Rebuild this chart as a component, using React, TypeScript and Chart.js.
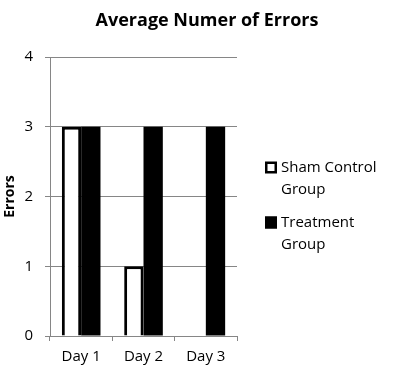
import React, { useEffect, useRef } from "react";
import { Chart, registerables } from "chart.js";

Chart.register(...registerables);

const chartTitle = "Average Numer of Errors";
const categories = ["Day 1", "Day 2", "Day 3"];
const shamValues = [3, 1, 0];
const treatmentValues = [3, 3, 3];
const seriesLabels = [["Sham Control", "Group"], ["Treatment", "Group"]];
const yTicks = [0, 1, 2, 3, 4];

const FONT = "'Open Sans', sans-serif";

const overlay = {
  id: "overlay",
  afterDraw(chart: any) {
    const ctx = chart.ctx;
    const area = chart.chartArea;
    ctx.save();
    // title
    ctx.font = `bold 18px ${FONT}`;
    ctx.fillStyle = "#000";
    ctx.textAlign = "center";
    ctx.textBaseline = "middle";
    ctx.fillText(chartTitle, 207, 21);
    // legend
    const x0 = area.right + 28;
    const lineH = 22;
    const startY = 167.5;
    const itemGap = 55;
    ctx.font = `15px ${FONT}`;
    ctx.textAlign = "left";
    chart.data.datasets.forEach((ds: any, i: number) => {
      const y = startY + i * itemGap;
      const box = 12;
      ctx.fillStyle = ds.backgroundColor;
      ctx.fillRect(x0, y - box / 2, box, box);
      ctx.strokeStyle = "#000";
      ctx.lineWidth = 2.5;
      ctx.strokeRect(x0 + 1.25, y - box / 2 + 1.25, box - 2.5, box - 2.5);
      ctx.fillStyle = "#000";
      seriesLabels[i].forEach((line, j) => {
        ctx.fillText(line, x0 + 16, y + j * lineH);
      });
    });
    ctx.restore();
  },
};

export default function App() {
  const ref = useRef<HTMLCanvasElement | null>(null);
  useEffect(() => {
    document.body.style.margin = "0";
    if (!ref.current) return;
    const chart = new Chart(ref.current, {
      type: "bar",
      data: {
        labels: categories,
        datasets: [
          {
            label: seriesLabels[0].join(" "),
            data: shamValues,
            backgroundColor: "#ffffff",
            borderColor: "#000000",
            borderWidth: 3,
            borderSkipped: "start",
          },
          {
            label: seriesLabels[1].join(" "),
            data: treatmentValues,
            backgroundColor: "#000000",
            borderColor: "#000000",
            borderWidth: 0,
          },
        ],
      },
      plugins: [overlay],
      options: {
        responsive: false,
        animation: false,
        datasets: { bar: { categoryPercentage: 0.62, barPercentage: 1 } },
        layout: { padding: { left: 0, right: 163, top: 57, bottom: 10 } },
        plugins: {
          tooltip: { enabled: false },
          legend: { display: false },
          title: { display: false },
        },
        scales: {
          x: {
            offset: true,
            grid: {
              offset: true,
              drawOnChartArea: false,
              drawTicks: true,
              tickLength: 5,
              color: "#868686",
            },
            border: { color: "#868686", width: 1, z: 1 },
            ticks: { color: "#000", font: { family: FONT, size: 15 }, padding: 7 },
          },
          y: {
            min: 0,
            max: 4,
            afterBuildTicks: (axis: any) => {
              axis.ticks = yTicks.map((v) => ({ value: v }));
            },
            afterFit: (axis: any) => {
              axis.width = 50;
            },
            grid: { color: "#868686", tickLength: 5 },
            border: { color: "#868686", width: 1 },
            ticks: { color: "#000", font: { family: FONT, size: 15 }, padding: 12 },
            title: {
              display: true,
              text: "Errors",
              color: "#000",
              font: { family: FONT, size: 14, weight: "bold" },
              padding: { top: 2, bottom: 0 },
            },
          },
        },
      },
    });
    return () => chart.destroy();
  }, []);
  return <canvas ref={ref} width={400} height={383} style={{ display: "block" }} />;
}
